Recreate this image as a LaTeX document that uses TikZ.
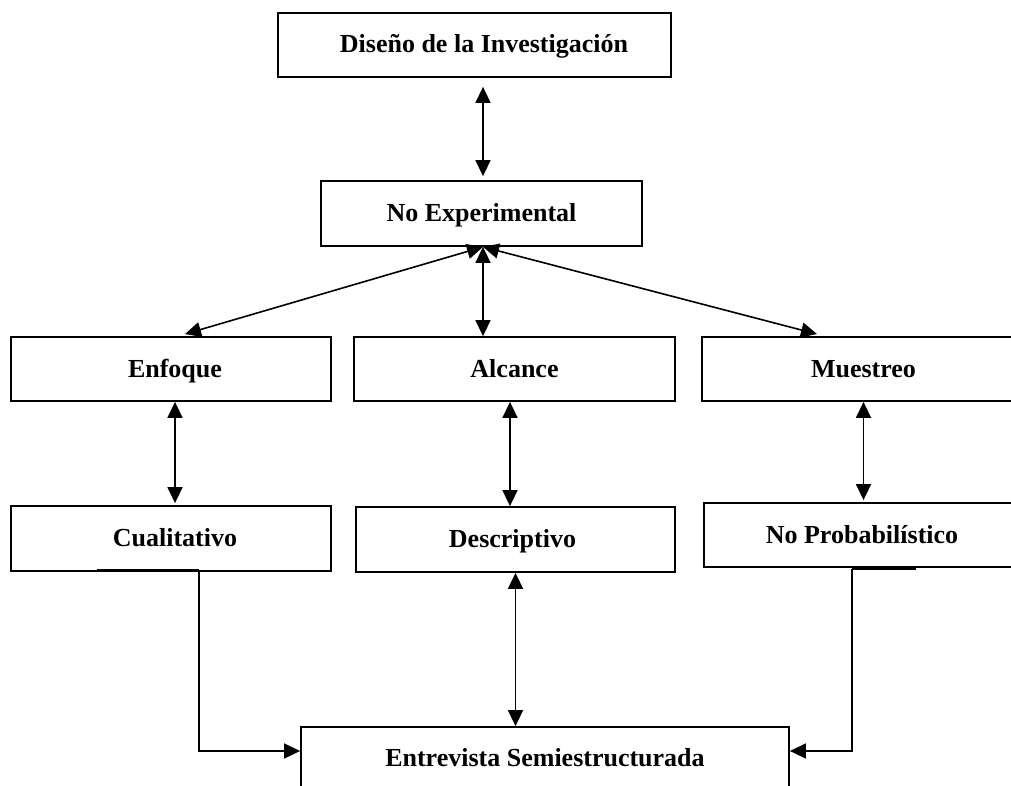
\documentclass[tikz,border=0pt]{standalone}
\usepackage{fontspec}
\setmainfont{Liberation Serif}
\usetikzlibrary{arrows.meta}
\begin{document}
\begin{tikzpicture}[x=1pt,y=-1pt,
  box/.style={draw,line width=1.8pt,rectangle,inner sep=0pt,
    text height=19pt,text depth=3pt,
    font=\fontsize{26}{30}\selectfont\bfseries},
  link/.style={line width=1.6pt,
    {Triangle[length=16pt,width=15pt]}-{Triangle[length=16pt,width=15pt]}},
  feed/.style={line width=1.6pt,-{Triangle[length=16pt,width=15pt]}},
  wire/.style={line width=1.6pt}]
\useasboundingbox (0,0) rectangle (1011,786);
\clip (0,0) rectangle (1011,786);

% boxes
\node[box,minimum width=393pt,minimum height=64pt] (dis) at (474.5,45)
  {\hspace*{19pt}Diseño de la Investigación};
\node[box,minimum width=321pt,minimum height=65pt] (nexp) at (481.5,213.5) {No Experimental};
\node[box,minimum width=320pt,minimum height=64pt] (enf) at (171,369) {\hspace*{8pt}Enfoque};
\node[box,minimum width=321pt,minimum height=64pt] (alc) at (514.5,369) {Alcance};
\node[box,minimum width=323pt,minimum height=64pt] (mue) at (863.5,369) {Muestreo};
\node[box,minimum width=320pt,minimum height=65pt] (cua) at (171,538.5) {\hspace*{8pt}Cualitativo};
\node[box,minimum width=319pt,minimum height=65pt] (des) at (515.5,539.5) {\hspace*{-6pt}Descriptivo};
\node[box,minimum width=316pt,minimum height=64pt] (npr) at (862,535) {No Probabilístico};
\node[box,minimum width=488pt,minimum height=63pt] (ent) at (545,758.5) {Entrevista Semiestructurada};

% anchor points
\coordinate (hub) at ([xshift=1.5pt]nexp.south);
\coordinate (disB) at (dis.south -| hub);
\coordinate (enfT) at ([xshift=14pt,yshift=2pt]enf.north);
\coordinate (mueT) at ([xshift=-46.5pt,yshift=2pt]mue.north);
\coordinate (enfB) at ([xshift=4pt]enf.south);
\coordinate (alcB) at ([xshift=-4.5pt]alc.south);
\coordinate (cuaA) at ([xshift=-74pt,yshift=2pt]cua.south);
\coordinate (cuaB) at ([xshift=28pt,yshift=2pt]cua.south);
\coordinate (nprA) at ([xshift=54pt,yshift=-1pt]npr.south);
\coordinate (nprB) at ([xshift=-10pt,yshift=-1pt]npr.south);

% connectors
\draw[link,shorten <=9pt,shorten >=4pt] (disB) -- (disB |- nexp.north);
\draw[link] (hub) -- (enfT);
\draw[link] (hub) -- (hub |- alc.north);
\draw[link] (hub) -- (mueT);
\draw[link,shorten >=2pt] (enfB) -- (enfB |- cua.north);
\draw[link] (alcB) -- (alcB |- des.north);
\draw[link,shorten >=2pt] (mue.south) -- (mue.south |- npr.north);
\draw[link] (des.south) -- (des.south |- ent.north);

\draw[wire] (cuaA) -- (cuaB);
\draw[feed] (cuaB) |- ([yshift=7.5pt]ent.west);
\draw[wire] (nprA) -- (nprB);
\draw[feed] (nprB) |- ([yshift=7.5pt]ent.east);
\end{tikzpicture}
\end{document}
